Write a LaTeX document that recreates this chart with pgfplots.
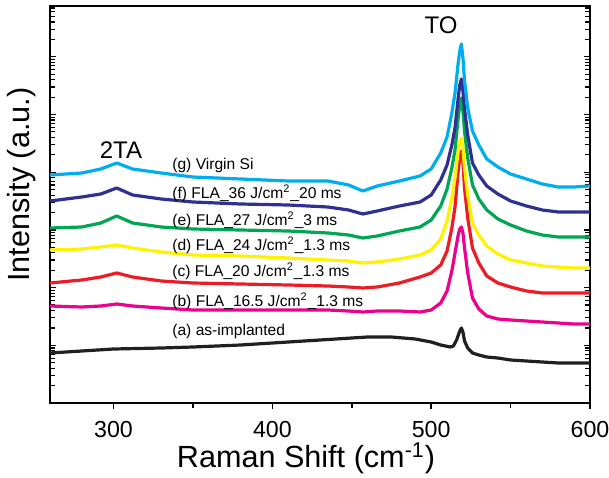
\documentclass[border=0pt]{standalone}
\usepackage{fontspec}
\setmainfont{Liberation Sans}
\usepackage{pgfplots}
\pgfplotsset{compat=1.18}

\definecolor{cA}{RGB}{35,31,32}
\definecolor{cB}{RGB}{236,0,140}
\definecolor{cC}{RGB}{237,28,36}
\definecolor{cD}{RGB}{255,242,0}
\definecolor{cE}{RGB}{0,166,81}
\definecolor{cF}{RGB}{46,49,146}
\definecolor{cG}{RGB}{0,174,239}

% y: height above the axis floor; the tick marks follow a log scale (57.7 per decade)
\begin{document}
\begin{tikzpicture}
\begin{axis}[
    scale only axis, width=270pt, height=198.5pt,
    xmin=260, xmax=600, ymin=0, ymax=397,
    axis line style={line width=0.9pt},
    xtick={300,400,500,600}, minor xtick={350,450,550},
    xtick pos=bottom, xtick align=outside,
    major tick length=3pt, minor tick length=2.5pt,
    every tick/.style={black, line width=0.8pt},
    ytick={57.7,115.4,173.1,230.8,288.5,346.2},
    minor ytick={17.37,27.53,34.74,40.33,44.90,48.76,52.11,55.06,
      75.07,85.23,92.44,98.03,102.60,106.46,109.81,112.76,
      132.77,142.93,150.14,155.73,160.30,164.16,167.51,170.46,
      190.47,200.63,207.84,213.43,218.00,221.86,225.21,228.16,
      248.17,258.33,265.54,271.13,275.70,279.56,282.91,285.86,
      305.87,316.03,323.24,328.83,333.40,337.26,340.61,343.56,
      363.57,373.73,380.94,386.53,391.10,394.96},
    ytick pos=both, ytick align=inside,
    ytick style={line width=0.6pt},
    yticklabels={},
    /pgf/number format/assume math mode=true,
    x tick label style={font=\fontsize{11.6}{13}\selectfont, inner sep=0pt, yshift=-6pt},
    xlabel={Raman Shift (cm\textsuperscript{-1})},
    ylabel={Intensity (a.u.)},
    label style={font=\fontsize{15.3}{17}\selectfont, inner sep=0pt},
    xlabel style={at={(axis description cs:0.474,-0.163)}, anchor=base},
    ylabel style={at={(axis description cs:-0.053,0.55)}, anchor=center},
    every axis plot/.append style={line width=1.6pt, line join=round},
]
% (a) as-implanted
\addplot[cA] coordinates {
 (260,50) (280,52) (300,54) (330,55) (350,56) (380,58) (410,61) (440,64)
 (460,66) (475,66) (490,64) (500,61) (506,58) (512,56) (514,57) (516,63)
 (518,72) (519,75) (520,71) (521,62) (523,55) (526,50) (530,48) (535,46)
 (542,45) (550,43) (560,42) (570,41) (580,40) (590,40) (600,40)};
% (b) 16.5 J/cm2 1.3 ms
\addplot[cB] coordinates {
 (260,97) (280,96) (292,97) (302,99) (312,97) (330,95) (350,93) (380,93)
 (410,93) (435,93) (448,92) (457,91) (466,92) (480,92) (493,91) (500,93)
 (506,100) (510,112) (513,132) (515,150) (517,168) (518,174) (519,176)
 (520,170) (521,155) (523,130) (526,105) (530,94) (535,87) (542,84)
 (550,83) (560,82) (570,81) (580,80) (590,79) (600,79)};
% (c) 20 J/cm2 1.3 ms
\addplot[cC] coordinates {
 (260,120) (280,123) (292,126) (302,130) (312,126) (330,122) (350,120)
 (380,119) (410,118) (435,117) (448,116) (457,115) (466,116) (480,120)
 (493,126) (500,130) (506,138) (510,152) (513,175) (515,196) (517,232)
 (518,246) (519,252) (520,240) (521,215) (523,185) (526,155) (530,140)
 (535,127) (542,120) (550,116) (560,112) (570,110) (580,110) (590,110) (600,110)};
% (d) 24 J/cm2 1.3 ms
\addplot[cD] coordinates {
 (260,153) (280,154) (292,156) (302,158) (312,155) (330,151) (350,148)
 (380,147) (410,145) (435,143) (448,142) (457,140) (466,141) (480,144)
 (493,148) (500,153) (506,164) (510,182) (513,205) (515,225) (517,252)
 (518,261) (519,265) (520,255) (521,235) (523,208) (526,180) (530,168)
 (535,157) (542,149) (550,143) (560,140) (570,137) (580,136) (590,135) (600,135)};
% (e) 27 J/cm2 3 ms
\addplot[cE] coordinates {
 (260,175) (280,176) (292,180) (302,187) (312,180) (330,176) (350,174)
 (380,173) (410,172) (435,170) (448,168) (457,165) (466,167) (480,172)
 (493,176) (500,183) (506,197) (510,214) (513,235) (515,253) (517,285)
 (518,298) (519,305) (520,292) (521,272) (523,245) (526,218) (530,204)
 (535,193) (542,184) (550,178) (560,172) (570,168) (580,166) (590,166) (600,166)};
% (f) 36 J/cm2 20 ms
\addplot[cF] coordinates {
 (260,202) (280,206) (292,209) (302,215) (312,208) (330,204) (350,201)
 (380,199) (410,198) (435,196) (448,193) (457,189) (466,192) (480,197)
 (493,201) (500,208) (506,223) (510,238) (513,258) (515,275) (517,305)
 (518,318) (519,324) (520,312) (521,294) (523,268) (526,240) (530,228)
 (535,217) (542,209) (550,202) (560,197) (570,193) (580,191) (590,191) (600,191)};
% (g) virgin Si
\addplot[cG] coordinates {
 (260,228) (280,230) (292,234) (302,240) (312,234) (330,230) (350,226)
 (380,224) (410,222) (435,222) (448,218) (457,212) (466,217) (480,222)
 (493,227) (500,234) (506,250) (510,266) (513,290) (515,310) (517,340)
 (518,352) (519,359) (520,345) (521,322) (523,295) (526,272) (530,258)
 (535,244) (542,236) (550,229) (560,224) (570,219) (580,216) (590,216) (600,217)};

\node[font=\fontsize{12}{14}\selectfont] at (axis cs:304.7,253) {2TA};
\node[font=\fontsize{12}{14}\selectfont] at (axis cs:506.2,378) {TO};
\begin{scope}[every node/.style={anchor=west, inner sep=0pt, font=\fontsize{7.8}{9}\selectfont}]
\node at (axis cs:336.8,238) {(g) Virgin Si};
\node at (axis cs:336.8,210) {(f) FLA\_36 J/cm\textsuperscript{2}\_20 ms};
\node at (axis cs:336.8,183) {(e) FLA\_27 J/cm\textsuperscript{2}\_3 ms};
\node at (axis cs:336.8,158) {(d) FLA\_24 J/cm\textsuperscript{2}\_1.3 ms};
\node at (axis cs:336.8,131.5) {(c) FLA\_20 J/cm\textsuperscript{2}\_1.3 ms};
\node at (axis cs:336.8,101.5) {(b) FLA\_16.5 J/cm\textsuperscript{2}\_1.3 ms};
\node at (axis cs:336.8,71.5) {(a) as-implanted};
\end{scope}
\coordinate (bl) at (rel axis cs:0,0);
\coordinate (tr) at (rel axis cs:1,1);
\end{axis}
\pgfresetboundingbox
\path ([shift={(-25pt,-37pt)}]bl) rectangle ([shift={(9.5pt,3pt)}]tr);
\end{tikzpicture}
\end{document}
